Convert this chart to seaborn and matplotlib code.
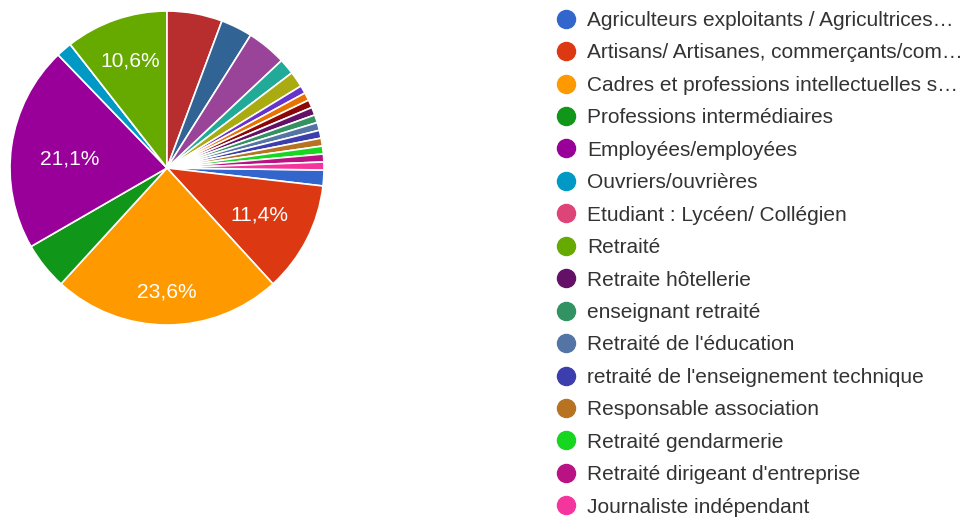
import matplotlib
matplotlib.use("Agg")
import numpy as np
import matplotlib.pyplot as plt
from matplotlib.lines import Line2D
import seaborn as sns

# Survey answers (123 respondents), in the form's order
categories = [
    "Agriculteurs exploitants / Agricultrices…",
    "Artisans/ Artisanes, commerçants/com…",
    "Cadres et professions intellectuelles s…",
    "Professions intermédiaires",
    "Employées/employées",
    "Ouvriers/ouvrières",
    "Etudiant : Lycéen/ Collégien",
    "Retraité",
    # answers 9-16 are not visible in the legend of the screenshot
    "Autre 9", "Autre 10", "Autre 11", "Autre 12",
    "Autre 13", "Autre 14", "Autre 15", "Autre 16",
    "Retraite hôtellerie",
    "enseignant retraité",
    "Retraité de l'éducation",
    "retraité de l'enseignement technique",
    "Responsable association",
    "Retraité gendarmerie",
    "Retraité dirigeant d'entreprise",
    "Journaliste indépendant",
]
counts = [2, 14, 29, 6, 26, 2, 0, 13,
          7, 4, 5, 2, 2, 1, 1, 1,
          1, 1, 1, 1, 1, 1, 1, 1]
legend_idx = list(range(0, 8)) + list(range(16, 24))

# Google Forms default palette
google_colors = ["#3366cc", "#dc3912", "#ff9900", "#109618", "#990099", "#0099c6",
                 "#dd4477", "#66aa00", "#b82e2e", "#316395", "#994499", "#22aa99",
                 "#aaaa11", "#6633cc", "#e67300", "#8b0707", "#651067", "#329262",
                 "#5574a6", "#3b3eac", "#b77322", "#16d620", "#b91383", "#f4359e"]

# radial position (and small angle nudge) of the percentage text in the big slices
text_dist = {1: (0.66, 0), 2: (0.79, 0), 4: (0.62, 2.5), 7: (0.72, 0)}

sns.set_theme(style="white")
plt.rcParams["font.family"] = ["Liberation Sans", "DejaVu Sans"]
palette = sns.color_palette(google_colors)

fig = plt.figure(figsize=(9.67, 5.26), dpi=100)
W, H = 967, 526
cx, cy, r = 167, 168, 157
ax = fig.add_axes([(cx - r) / W, 1 - (cy + r) / H, 2 * r / W, 2 * r / H])

total = sum(counts)
# the 9th answer starts at 12 o'clock, slices run clockwise
start = 90 + 360 * sum(counts[:8]) / total


def pct_label(p):
    return f"{p:.1f}%".replace(".", ",") if p >= 10 else ""


wedges, texts, autotexts = ax.pie(
    counts, colors=palette, startangle=start, counterclock=False,
    autopct=pct_label, pctdistance=0.7,
    wedgeprops=dict(edgecolor="white", linewidth=1.2),
    textprops=dict(color="white", fontsize=15.1),
)
for i, (d, nudge) in text_dist.items():
    w = wedges[i]
    mid = np.deg2rad((w.theta1 + w.theta2) / 2 + nudge)
    autotexts[i].set_position((d * np.cos(mid), d * np.sin(mid)))

ax.set_xlim(-1, 1)
ax.set_ylim(-1, 1)
ax.set_aspect("equal")

handles = [Line2D([], [], marker="o", linestyle="", markersize=13,
                  markerfacecolor=palette[i], markeredgecolor=palette[i])
           for i in legend_idx]
fig.legend(handles, [categories[i] for i in legend_idx],
           loc="upper left", bbox_to_anchor=(556 / W, 1 - 11 / H),
           frameon=False, fontsize=15.0, labelcolor="#333333",
           handlelength=0.98, handletextpad=0.53, labelspacing=0.645,
           borderpad=0, borderaxespad=0)

fig.savefig("out.png", dpi=100)
